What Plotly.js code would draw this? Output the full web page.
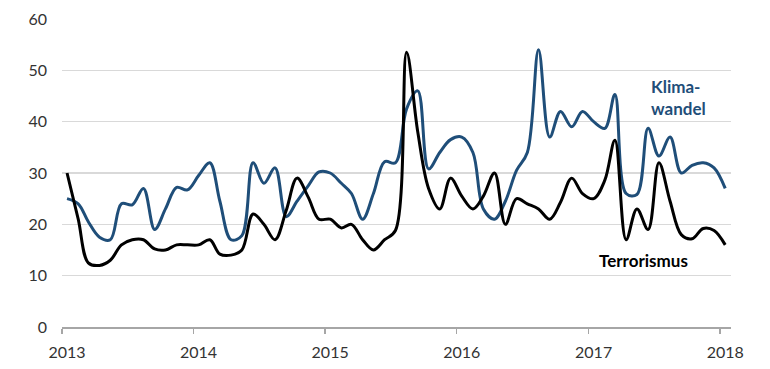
<!DOCTYPE html>
<html>
<head>
<meta charset="utf-8">
<script src="https://cdn.plot.ly/plotly-3.0.1.min.js"></script>
<style>html,body{margin:0;padding:0;background:#fff;}#chart{width:770px;height:369px;}</style>
</head>
<body>
<div id="chart"></div>
<script>
// Monthly values, Jan 2013 .. Jan 2018
var startYear = 2013;
var klimawandel = [25, 24, 20.5, 17.5, 17, 24, 23.8, 27, 19, 23, 27.2, 26.7,
  29.5, 32, 24.5, 17, 17.8, 32, 28, 31, 21.5, 24.5, 27.5, 30.2,
  30, 28, 26, 21, 26, 32.2, 32, 42.5, 46, 30.8, 34, 36.5,
  37, 34, 23, 21, 24.5, 30.5, 34, 54, 37, 42, 39, 42,
  40, 38.7, 45.3, 26, 25.8, 38.7, 33.3, 37, 30, 31.5, 32, 31,
  27];
var terrorismus = [30, 21, 12.5, 12, 13, 16, 17, 17, 15.2, 15, 16, 16,
  16, 17, 14.2, 14, 15, 22, 20, 17, 22.7, 29, 25.3, 21,
  21, 19.3, 20, 17, 15, 17, 18.8, 53.5, 38, 27, 23, 29,
  25.5, 23, 25.5, 30, 20, 25, 24, 23, 21, 24.3, 29, 26,
  25, 28.6, 36.4, 17, 23, 19, 32, 24.5, 18, 17.2, 19.2, 18.8,
  16];
var tickYears = ['2013', '2014', '2015', '2016', '2017', '2018'];
var yTicks = [0, 10, 20, 30, 40, 50, 60];

function pad(n){return n < 10 ? '0' + n : '' + n;}
var months = [];
for (var i = 0; i < klimawandel.length; i++) {
  var y = startYear + Math.floor(i / 12);
  var m = (i % 12) + 1;
  months.push(y + '-' + pad(m) + '-15');
}

var font = 'Lato, "Open Sans", sans-serif';
var traces = [
  {x: months, y: klimawandel, type: 'scatter', mode: 'lines', name: 'Klimawandel',
   line: {color: '#1F4E79', width: 3, shape: 'spline', smoothing: 1}, hoverinfo: 'x+y'},
  {x: months, y: terrorismus, type: 'scatter', mode: 'lines', name: 'Terrorismus',
   line: {color: '#000000', width: 3, shape: 'spline', smoothing: 1}, hoverinfo: 'x+y'}
];

var layout = {
  width: 770, height: 369,
  margin: {l: 62, r: 39, t: 19, b: 42, pad: 0},
  paper_bgcolor: '#ffffff', plot_bgcolor: '#ffffff',
  showlegend: false,
  font: {family: font, size: 16, color: '#333333'},
  xaxis: {
    type: 'date',
    range: ['2013-01-01', '2018-01-31'],
    tickvals: tickYears.map(function(t){return t + '-01-01';}),
    ticktext: tickYears,
    showgrid: false, zeroline: false,
    showline: true, linecolor: '#a6a6a6', linewidth: 1.5,
    ticks: 'outside', ticklen: 5, tickwidth: 1.5, tickcolor: '#a6a6a6',
    ticklabelshift: 5, ticklabelstandoff: 5,
    tickfont: {family: font, size: 16, color: '#333333'}
  },
  yaxis: {
    range: [0, 60],
    tickvals: yTicks,
    showgrid: true, gridcolor: '#d9d9d9', gridwidth: 1.5,
    zeroline: false, showline: false, ticks: '',
    ticklabelstandoff: 14,
    tickfont: {family: font, size: 16, color: '#333333'}
  },
  annotations: [
    {xref: 'paper', yref: 'paper', x: 0.877, y: 0.745, xanchor: 'left', yanchor: 'middle',
     text: '<b>Klima-<br>wandel</b>', showarrow: false, align: 'left',
     font: {family: font, size: 17, color: '#1F4E79'}},
    {xref: 'paper', yref: 'paper', x: 0.8685, y: 0.215, xanchor: 'center', yanchor: 'middle',
     text: '<b>Terrorismus</b>', showarrow: false,
     font: {family: font, size: 17, color: '#000000'}}
  ]
};

Plotly.newPlot('chart', traces, layout, {displayModeBar: false, staticPlot: true});
</script>
</body>
</html>
